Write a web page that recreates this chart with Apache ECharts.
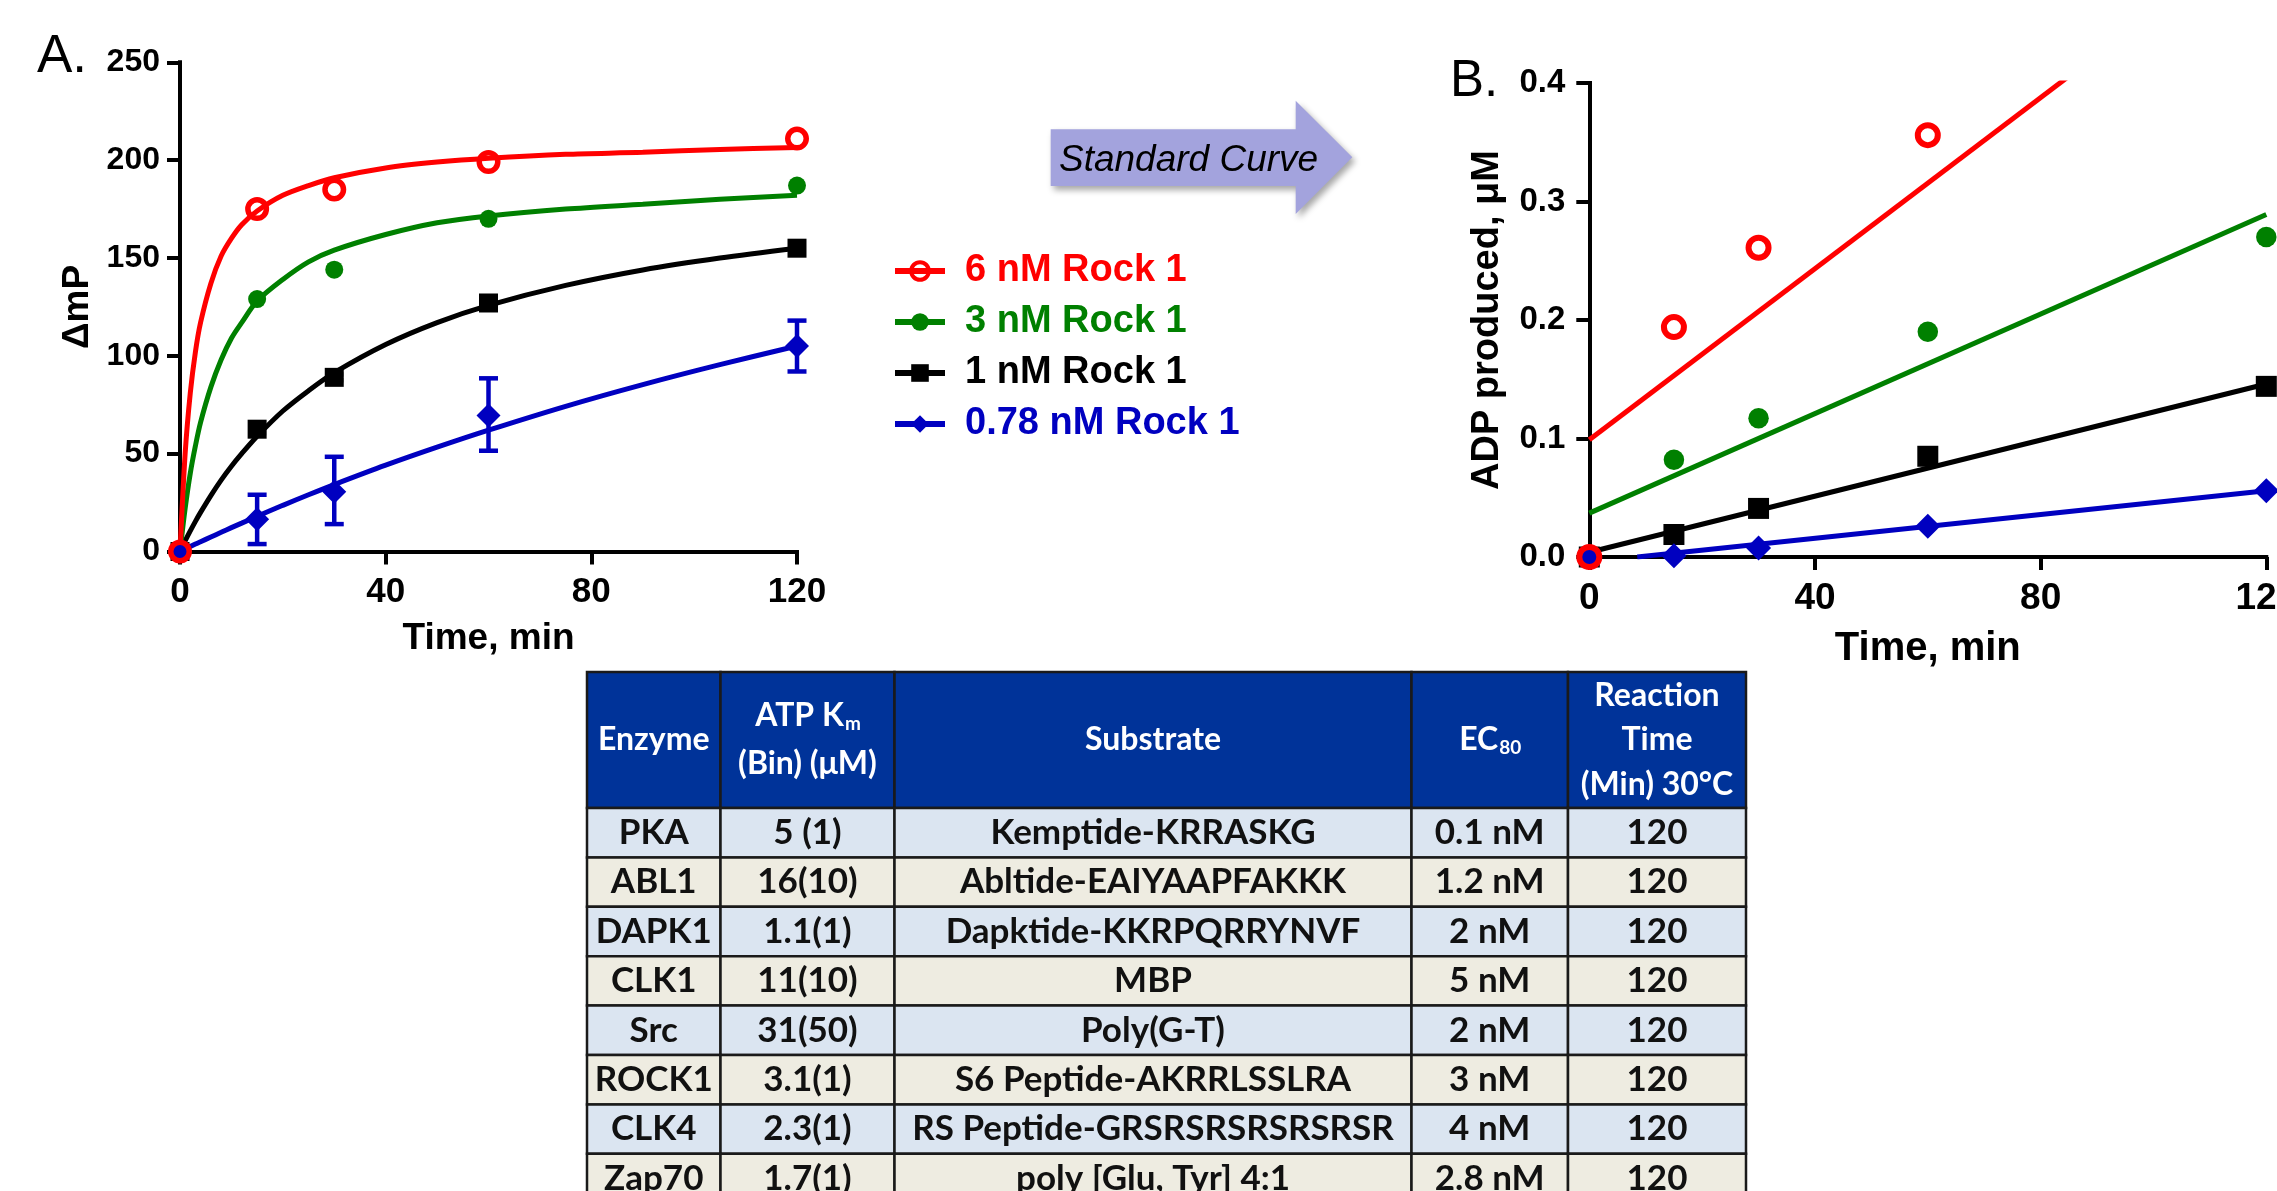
<!DOCTYPE html>
<html><head><meta charset="utf-8">
<script src="https://cdn.jsdelivr.net/npm/echarts@6/dist/echarts.min.js"></script>
<style>html,body{margin:0;padding:0;background:#fff}#c{width:2277px;height:1191px}</style>
</head><body><div id="c"></div><script>
// ---------- Panel A data (ΔmP vs time) ----------
const seriesNames = ['6 nM Rock 1', '3 nM Rock 1', '1 nM Rock 1', '0.78 nM Rock 1'];
const fitTime = [0, 1, 2, 3, 4, 6, 8, 10, 12, 15, 20, 25, 30, 40, 50, 60, 75, 90, 105, 120];
const fitRed   = [0, 50, 81, 102, 117, 137, 151, 160, 167, 174, 182, 187, 191, 196, 199, 201, 203, 204, 205.5, 206.5];
const fitGreen = [0, 22, 40, 54, 66, 84, 98, 109, 117, 128, 139, 148, 154, 162, 168, 171.5, 175, 177.5, 180, 182];
const fitBlack = [0, 5.4, 10.5, 15.4, 20, 28.6, 36.5, 43.6, 50, 58.9, 71.8, 82.2, 91.4, 105.8, 117, 125.8, 136, 143.9, 150, 155];
const fitBlue  = [0, 1.3, 2.5, 3.8, 5, 7.4, 9.8, 12.2, 14.5, 18, 23.6, 29, 34.2, 44.1, 53.3, 62, 74.2, 85.3, 95.5, 105];
const ptTime = [0, 15, 30, 60, 120];
const ptRed   = [0, 175, 185, 199, 211];
const ptGreen = [0, 129, 144, 170, 187];
const ptBlack = [0, 62.5, 89, 127, 155];
const ptBlue  = [0, 16.5, 30.5, 69.5, 105];
const errBlueLow  = [null, 3.8, 14, 51.5, 92];
const errBlueHigh = [null, 29, 48.4, 88.5, 118];
const errBlackLow  = [null, 60.5, 87.5, null, null];
const errBlackHigh = [null, 64.5, 90.5, null, null];
const yTicksA = [0, 50, 100, 150, 200, 250];
const xTicks = [0, 40, 80, 120];

// ---------- Panel B data (ADP produced vs time) ----------
const bTimeRed = [0, 15, 30, 60];
const bRed   = [0, 0.194, 0.261, 0.356];
const bTime  = [0, 15, 30, 60, 120];
const bGreen = [0, 0.082, 0.117, 0.19, 0.27];
const bBlack = [0, 0.019, 0.041, 0.085, 0.144];
const bBlue  = [0, 0.001, 0.0075, 0.026, 0.056];
const lineRedX = [0, 120],   lineRedY = [0.099, 0.532];
const lineGreenX = [0, 120], lineGreenY = [0.037, 0.289];
const lineBlackX = [0, 120], lineBlackY = [0.004, 0.146];
const lineBlueX = [8.5, 120], lineBlueY = [0, 0.056];
const yTicksB = [0, 0.1, 0.2, 0.3, 0.4];

// ---------- Table data ('_' marks a subscript) ----------
const tableHeaders = [['Enzyme'], ['ATP K_m', '(Bin) (μM)'], ['Substrate'], ['EC_80'], ['Reaction', 'Time', '(Min) 30°C']];
const enzymes = ['PKA', 'ABL1', 'DAPK1', 'CLK1', 'Src', 'ROCK1', 'CLK4', 'Zap70'];
const atpKm = ['5 (1)', '16(10)', '1.1(1)', '11(10)', '31(50)', '3.1(1)', '2.3(1)', '1.7(1)'];
const substrates = ['Kemptide-KRRASKG', 'Abltide-EAIYAAPFAKKK', 'Dapktide-KKRPQRRYNVF', 'MBP', 'Poly(G-T)', 'S6 Peptide-AKRRLSSLRA', 'RS Peptide-GRSRSRSRSRSRSR', 'poly [Glu, Tyr] 4:1'];
const ec80 = ['0.1 nM', '1.2 nM', '2 nM', '5 nM', '2 nM', '3 nM', '4 nM', '2.8 nM'];
const reactionTime = ['120', '120', '120', '120', '120', '120', '120', '120'];

// ---------- helpers ----------
const RED = '#ff0000', GREEN = '#008000', BLACK = '#000000', BLUE = '#0000c0';
const zip = (xs, ys) => xs.map((x, i) => [x, ys[i]]);
const FONT = 'Liberation Sans';

function axisCommon(fs, margin) {
  return {
    axisLine: { show: true, onZero: false, lineStyle: { color: '#000', width: 4, cap: 'square' } },
    axisTick: { show: true, inside: false, length: 13, lineStyle: { color: '#000', width: 4 } },
    splitLine: { show: false },
    axisLabel: { color: '#000', fontSize: fs, fontWeight: 'bold', fontFamily: FONT, margin: margin }
  };
}

function errRender(color, capW, lw) {
  return function (params, api) {
    const x = api.value(0), lo = api.value(1), hi = api.value(2);
    const a = api.coord([x, lo]), b = api.coord([x, hi]);
    const st = { stroke: color, lineWidth: lw };
    return { type: 'group', children: [
      { type: 'line', shape: { x1: a[0], y1: a[1], x2: b[0], y2: b[1] }, style: st },
      { type: 'line', shape: { x1: a[0] - capW / 2, y1: a[1], x2: a[0] + capW / 2, y2: a[1] }, style: st },
      { type: 'line', shape: { x1: b[0] - capW / 2, y1: b[1], x2: b[0] + capW / 2, y2: b[1] }, style: st }
    ]};
  };
}
function errData(xs, lo, hi) {
  const out = [];
  xs.forEach((x, i) => { if (lo[i] != null) out.push([x, lo[i], hi[i]]); });
  return out;
}

// table layout
const colEdges = [0, 133.5, 307.5, 824.5, 981, 1159];
const headerH = 136, rowH = 49.4;
const rowTop = r => (r === 0 ? 0 : headerH + (r - 1) * rowH);
const tableCols = [enzymes, atpKm, substrates, ec80, reactionTime];
const tableData = [];
for (let r = 0; r <= enzymes.length; r++) for (let c = 0; c < 5; c++) tableData.push([c, r]);
const TF = 'Lato', HEAD_FS = 32, SUB_FS = 19, BODY_FS = 35;
const mctx = document.createElement('canvas').getContext('2d');
function measure(t, fs) { mctx.font = 'bold ' + fs + 'px ' + TF; return mctx.measureText(t).width; }

function tableRender(params, api) {
  const c = api.value(0), r = api.value(1);
  const p0 = api.coord([colEdges[c], rowTop(r)]);
  const p1 = api.coord([colEdges[c + 1], rowTop(r + 1)]);
  const fill = r === 0 ? '#003399' : (r % 2 === 1 ? '#dbe5f1' : '#eeece1');
  const cx = (p0[0] + p1[0]) / 2, cy = (p0[1] + p1[1]) / 2;
  const children = [
    { type: 'rect', shape: { x: p0[0], y: p0[1], width: p1[0] - p0[0], height: p1[1] - p0[1] },
      style: { fill: fill, stroke: '#1a1a1a', lineWidth: 2.5 } }
  ];
  if (r === 0) {
    const lines = tableHeaders[c];
    const lh = lines.length === 3 ? 44.5 : 48;
    lines.forEach((ln, i) => {
      const parts = ln.split('_');
      const main = parts[0], sub = parts[1] || '';
      const w = measure(main, HEAD_FS), sw = sub ? measure(sub, SUB_FS) : 0;
      const x0 = cx - (w + sw) / 2;
      const y = cy + (i - (lines.length - 1) / 2) * lh;
      children.push({ type: 'text', style: { text: main, x: x0, y: y, align: 'left', verticalAlign: 'middle',
        fill: '#ffffff', fontFamily: TF, fontWeight: 'bold', fontSize: HEAD_FS } });
      if (sub) children.push({ type: 'text', style: { text: sub, x: x0 + w + 1, y: y + 8, align: 'left', verticalAlign: 'middle',
        fill: '#ffffff', fontFamily: TF, fontWeight: 'bold', fontSize: SUB_FS } });
    });
  } else {
    children.push({ type: 'text', style: { text: tableCols[c][r - 1], x: cx, y: cy, align: 'center', verticalAlign: 'middle',
      fill: '#111111', fontFamily: TF, fontWeight: 'bold', fontSize: BODY_FS } });
  }
  return { type: 'group', children: children };
}

const legendItem = (name, color, sym) => ({
  name: name, textStyle: { color: color },
  itemStyle: sym === 'open' ? { color: 'rgba(0,0,0,0)', borderColor: color, borderWidth: 4 } : { color: color, borderWidth: 0 },
  lineStyle: { color: color, width: 6 }
});

const chart = echarts.init(document.getElementById('c'), null, { renderer: 'canvas', width: 2277, height: 1191 });
const LW = 5;
const option = {
  backgroundColor: '#ffffff',
  animation: false,
  grid: [
    { left: 180, top: 62.3, width: 617, height: 489.2, containLabel: false, outerBoundsMode: 'none' },
    { left: 1589.3, top: 83, width: 677, height: 474, containLabel: false, outerBoundsMode: 'none' },
    { left: 587, top: 672, width: 1159, height: 531, containLabel: false, outerBoundsMode: 'none' }
  ],
  xAxis: [
    Object.assign(axisCommon(35, 23), { type: 'value', gridIndex: 0, min: xTicks[0], max: xTicks[3], interval: 40,
      name: 'Time, min', nameLocation: 'middle', nameGap: 69,
      nameTextStyle: { color: '#000', fontSize: 37, fontWeight: 'bold', fontFamily: FONT } }),
    Object.assign(axisCommon(37, 23), { type: 'value', gridIndex: 1, min: xTicks[0], max: xTicks[3], interval: 40,
      name: 'Time, min', nameLocation: 'middle', nameGap: 72,
      nameTextStyle: { color: '#000', fontSize: 40, fontWeight: 'bold', fontFamily: FONT } }),
    { type: 'value', gridIndex: 2, min: 0, max: 1159, show: false }
  ],
  yAxis: [
    Object.assign(axisCommon(32, 20), { type: 'value', gridIndex: 0, min: yTicksA[0], max: yTicksA[5], interval: 50,
      name: 'ΔmP', nameLocation: 'middle', nameGap: 84, nameRotate: 90,
      nameTextStyle: { color: '#000', fontSize: 37, fontWeight: 'bold', fontFamily: FONT } }),
    Object.assign(axisCommon(33, 24), { type: 'value', gridIndex: 1, min: yTicksB[0], max: yTicksB[4], interval: 0.1,
      name: 'ADP produced, μM', nameLocation: 'middle', nameGap: 83, nameRotate: 90,
      nameTextStyle: { color: '#000', fontSize: 38, fontWeight: 'bold', fontFamily: FONT } }),
    { type: 'value', gridIndex: 2, min: 0, max: 531, inverse: true, show: false }
  ],
  legend: {
    orient: 'vertical', left: 887, top: 247, itemWidth: 50, itemHeight: 22, itemGap: 13,
    selectedMode: false,
    textStyle: { fontSize: 38, fontWeight: 'bold', fontFamily: FONT, padding: [0, 0, 0, 15] },
    data: [legendItem(seriesNames[0], RED, 'open'), legendItem(seriesNames[1], GREEN), legendItem(seriesNames[2], BLACK), legendItem(seriesNames[3], BLUE)]
  },
  graphic: [
    { type: 'text', left: 37, top: 31, style: { text: 'A.', fontSize: 53, fontFamily: FONT, fill: '#000' } },
    { type: 'text', left: 1450, top: 56, style: { text: 'B.', fontSize: 51, fontFamily: FONT, fill: '#000' } },
    { type: 'polygon', shape: { points: [[1050.7, 129.3], [1295.7, 129.3], [1295.7, 100.7], [1352.3, 157.3], [1295.7, 214], [1295.7, 186], [1050.7, 186]] },
      style: { fill: '#a3a3dd', shadowBlur: 6, shadowOffsetX: 3, shadowOffsetY: 4, shadowColor: 'rgba(0,0,0,0.35)' } },
    { type: 'text', left: 1059, top: 142, style: { text: 'Standard Curve', fontSize: 37, fontStyle: 'italic', fontFamily: FONT, fill: '#000' } }
  ],
  series: [
    // Panel A fitted curves
    { type: 'line', name: seriesNames[3], xAxisIndex: 0, yAxisIndex: 0, data: zip(fitTime, fitBlue), smooth: 0.3,
      symbol: 'diamond', showSymbol: false, lineStyle: { color: BLUE, width: LW }, itemStyle: { color: BLUE } },
    { type: 'line', name: seriesNames[2], xAxisIndex: 0, yAxisIndex: 0, data: zip(fitTime, fitBlack), smooth: 0.3,
      symbol: 'rect', showSymbol: false, lineStyle: { color: BLACK, width: LW }, itemStyle: { color: BLACK } },
    { type: 'line', name: seriesNames[1], xAxisIndex: 0, yAxisIndex: 0, data: zip(fitTime, fitGreen), smooth: 0.3,
      symbol: 'circle', showSymbol: false, lineStyle: { color: GREEN, width: LW }, itemStyle: { color: GREEN } },
    { type: 'line', name: seriesNames[0], xAxisIndex: 0, yAxisIndex: 0, data: zip(fitTime, fitRed), smooth: 0.3,
      symbol: 'circle', showSymbol: false, lineStyle: { color: RED, width: LW }, itemStyle: { color: 'rgba(0,0,0,0)', borderColor: RED, borderWidth: 4 } },
    // Panel A error bars
    { type: 'custom', name: 'errBlack', xAxisIndex: 0, yAxisIndex: 0, data: errData(ptTime, errBlackLow, errBlackHigh),
      encode: { x: 0, y: [1, 2] }, renderItem: errRender(BLACK, 18, 4.5), clip: false, z: 3 },
    { type: 'custom', name: 'errBlue', xAxisIndex: 0, yAxisIndex: 0, data: errData(ptTime, errBlueLow, errBlueHigh),
      encode: { x: 0, y: [1, 2] }, renderItem: errRender(BLUE, 19, 4.5), clip: false, z: 3 },
    // Panel A points (black, green, blue, red on top)
    { type: 'scatter', name: 'ptsBlackA', xAxisIndex: 0, yAxisIndex: 0, data: zip(ptTime, ptBlack), symbol: 'rect', symbolSize: 19, clip: false, itemStyle: { color: BLACK, opacity: 1 }, z: 4 },
    { type: 'scatter', name: 'ptsGreenA', xAxisIndex: 0, yAxisIndex: 0, data: zip(ptTime, ptGreen), symbol: 'circle', symbolSize: 18, clip: false, itemStyle: { color: GREEN, opacity: 1 }, z: 4 },
    { type: 'scatter', name: 'ptsBlueA', xAxisIndex: 0, yAxisIndex: 0, data: zip(ptTime, ptBlue), symbol: 'diamond', symbolSize: 24, clip: false, itemStyle: { color: BLUE, opacity: 1 }, z: 4 },
    { type: 'scatter', name: 'ptsRedA', xAxisIndex: 0, yAxisIndex: 0, data: zip(ptTime, ptRed), symbol: 'circle', symbolSize: 18.5, clip: false,
      itemStyle: { color: 'rgba(0,0,0,0)', borderColor: RED, borderWidth: 5.5, opacity: 1 }, z: 4 },
    // Panel B linear fits
    { type: 'line', name: 'lineBlueB', xAxisIndex: 1, yAxisIndex: 1, data: zip(lineBlueX, lineBlueY), showSymbol: false, clip: true, lineStyle: { color: BLUE, width: LW } },
    { type: 'line', name: 'lineBlackB', xAxisIndex: 1, yAxisIndex: 1, data: zip(lineBlackX, lineBlackY), showSymbol: false, clip: true, lineStyle: { color: BLACK, width: LW } },
    { type: 'line', name: 'lineGreenB', xAxisIndex: 1, yAxisIndex: 1, data: zip(lineGreenX, lineGreenY), showSymbol: false, clip: true, lineStyle: { color: GREEN, width: LW } },
    { type: 'line', name: 'lineRedB', xAxisIndex: 1, yAxisIndex: 1, data: zip(lineRedX, lineRedY), showSymbol: false, clip: true, lineStyle: { color: RED, width: LW } },
    // Panel B points
    { type: 'scatter', name: 'ptsBlackB', xAxisIndex: 1, yAxisIndex: 1, data: zip(bTime, bBlack), symbol: 'rect', symbolSize: 21, clip: false, itemStyle: { color: BLACK, opacity: 1 }, z: 4 },
    { type: 'scatter', name: 'ptsGreenB', xAxisIndex: 1, yAxisIndex: 1, data: zip(bTime, bGreen), symbol: 'circle', symbolSize: 20.5, clip: false, itemStyle: { color: GREEN, opacity: 1 }, z: 4 },
    { type: 'scatter', name: 'ptsBlueB', xAxisIndex: 1, yAxisIndex: 1, data: zip(bTime, bBlue), symbol: 'diamond', symbolSize: 25, clip: false, itemStyle: { color: BLUE, opacity: 1 }, z: 4 },
    { type: 'scatter', name: 'ptsRedB', xAxisIndex: 1, yAxisIndex: 1, data: zip(bTimeRed, bRed), symbol: 'circle', symbolSize: 20, clip: false,
      itemStyle: { color: 'rgba(0,0,0,0)', borderColor: RED, borderWidth: 6, opacity: 1 }, z: 4 },
    // Table
    { type: 'custom', name: 'table', xAxisIndex: 2, yAxisIndex: 2, data: tableData, renderItem: tableRender, clip: false, encode: { x: 0, y: 1 } }
  ]
};
option.yAxis[1].axisLabel.formatter = v => v.toFixed(1);
chart.setOption(option);
</script></body></html>
